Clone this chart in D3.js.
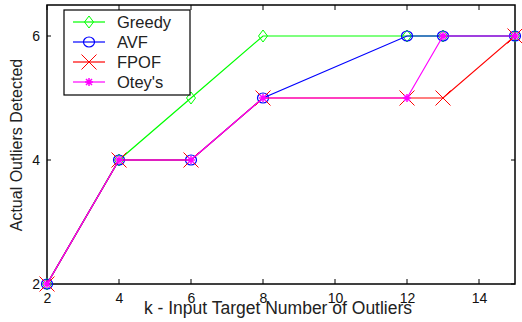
<!DOCTYPE html>
<html><head><meta charset="utf-8">
<script src="https://cdn.jsdelivr.net/npm/d3@7"></script>
<style>body{margin:0;background:#fff}svg{display:block;font-family:"Liberation Sans",Arial,sans-serif}</style>
</head><body><svg id="c" width="522" height="322"></svg>
<script>
const kValues = [2, 4, 6, 8, 12, 13, 15];
const greedy = [2, 4, 5, 6, 6, 6, 6];
const avf    = [2, 4, 4, 5, 6, 6, 6];
const fpof   = [2, 4, 4, 5, 5, 5, 6];
const otey   = [2, 4, 4, 5, 5, 6, 6];
const seriesNames = ["Greedy", "AVF", "FPOF", "Otey's"];
const xTicks = [2, 4, 6, 8, 10, 12, 14];
const yTicks = [2, 4, 6];

const series = [
  {name: seriesNames[0], vals: greedy, color: "#00ff00", marker: "diamond"},
  {name: seriesNames[1], vals: avf, color: "#0000ff", marker: "circle"},
  {name: seriesNames[2], vals: fpof, color: "#ff0000", marker: "x"},
  {name: seriesNames[3], vals: otey, color: "#ff00ff", marker: "star"}
];

const svg = d3.select("#c");
const L = 47, R = 515, T = 5, B = 284;
const x = d3.scaleLinear().domain([2, 15]).range([L, R]);
const y = d3.scaleLinear().domain([2, 6.5]).range([B, T]);

// axes box
const ax = svg.append("g");
ax.append("rect").attr("x", L).attr("y", T).attr("width", R - L).attr("height", B - T)
  .attr("fill", "#fff").attr("stroke", "#000").attr("stroke-width", 1.5);

// x ticks (inward top and bottom)
xTicks.forEach(t => {
  ax.append("line").attr("x1", x(t)).attr("x2", x(t)).attr("y1", B).attr("y2", B - 5).attr("stroke", "#000");
  ax.append("line").attr("x1", x(t)).attr("x2", x(t)).attr("y1", T).attr("y2", T + 5).attr("stroke", "#000");
});
yTicks.forEach(t => {
  ax.append("line").attr("x1", L).attr("x2", L + 4).attr("y1", y(t)).attr("y2", y(t)).attr("stroke", "#000");
  ax.append("line").attr("x1", R).attr("x2", R - 4).attr("y1", y(t)).attr("y2", y(t)).attr("stroke", "#000");
});

// tick labels via d3 axes (lines hidden)
const xAxis = svg.append("g").attr("transform", `translate(0,${B})`)
  .call(d3.axisBottom(x).tickValues(xTicks).tickSize(0).tickPadding(9).tickFormat(d3.format("d")));
const yAxis = svg.append("g").attr("transform", `translate(${L},0)`)
  .call(d3.axisLeft(y).tickValues(yTicks).tickSize(0).tickPadding(7).tickFormat(d3.format("d")));
[xAxis, yAxis].forEach(g => {
  g.select(".domain").remove();
  g.selectAll("text").attr("font-size", 14).attr("fill", "#111").attr("font-family", "Liberation Sans, Arial, sans-serif");
});

// axis titles
svg.append("text").attr("x", 278).attr("y", 314).attr("text-anchor", "middle")
  .attr("font-size", 17.5).attr("fill", "#222").text("k - Input Target Number of Outliers");
svg.append("text").attr("transform", "translate(22,145) rotate(-90)").attr("text-anchor", "middle")
  .attr("font-size", 16).attr("fill", "#222").text("Actual Outliers Detected");

function drawMarker(g, type, cx, cy, color) {
  if (type === "diamond") {
    g.append("path").attr("d", `M${cx},${cy - 6}L${cx + 4.5},${cy}L${cx},${cy + 6}L${cx - 4.5},${cy}Z`)
      .attr("fill", "none").attr("stroke", color).attr("stroke-width", 1);
  } else if (type === "circle") {
    g.append("ellipse").attr("cx", cx).attr("cy", cy).attr("rx", 5.5).attr("ry", 5)
      .attr("fill", "none").attr("stroke", color).attr("stroke-width", 1.2);
  } else if (type === "x") {
    const s = 7.5;
    g.append("path").attr("d", `M${cx - s},${cy - s}L${cx + s},${cy + s}M${cx - s},${cy + s}L${cx + s},${cy - s}`)
      .attr("stroke", color).attr("stroke-width", 1);
  } else if (type === "star") {
    const s = 4, d = 3;
    g.append("path").attr("d", `M${cx - s},${cy}L${cx + s},${cy}M${cx},${cy - s}L${cx},${cy + s}M${cx - d},${cy - d}L${cx + d},${cy + d}M${cx - d},${cy + d}L${cx + d},${cy - d}`)
      .attr("stroke", color).attr("stroke-width", 1.5);
  }
}

const line = d3.line().x(d => x(d[0])).y(d => y(d[1]));
series.forEach(s => {
  const pts = kValues.map((k, i) => [k, s.vals[i]]);
  const g = svg.append("g");
  g.append("path").datum(pts).attr("d", line).attr("fill", "none")
    .attr("stroke", s.color).attr("stroke-width", 1.2);
  pts.forEach(p => drawMarker(g, s.marker, x(p[0]), y(p[1]), s.color));
});

// legend
const lg = svg.append("g");
lg.append("rect").attr("x", 64).attr("y", 10).attr("width", 126).attr("height", 85)
  .attr("fill", "#fff").attr("stroke", "#000").attr("stroke-width", 1.2);
series.forEach((s, i) => {
  const cy = 22 + i * 20;
  lg.append("line").attr("x1", 73).attr("x2", 105).attr("y1", cy).attr("y2", cy)
    .attr("stroke", s.color).attr("stroke-width", 1.2);
  drawMarker(lg, s.marker, 89, cy, s.color);
  lg.append("text").attr("x", 117).attr("y", cy + 6).attr("font-size", 16.5).attr("fill", "#222").text(s.name);
});
</script></body></html>
